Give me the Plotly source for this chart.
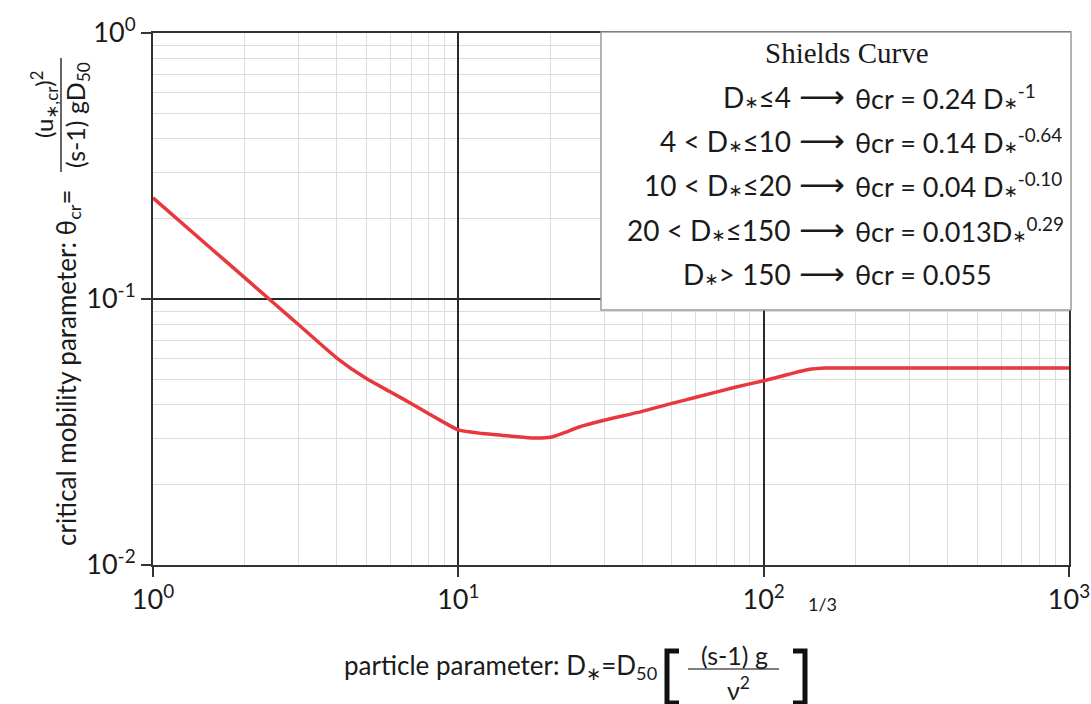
import plotly.graph_objects as go

# ---------------- data ----------------
D_star = [1, 1.5, 2, 2.5, 3, 4, 5, 6, 7, 8, 9, 10, 12, 14, 16, 18, 20, 22, 25, 30,
          40, 50, 60, 80, 100, 120, 140, 160, 200, 300, 500, 1000]
theta_cr = [0.240, 0.160, 0.120, 0.096, 0.080, 0.060, 0.0502, 0.0447, 0.0405, 0.0370,
            0.0343, 0.0322, 0.0312, 0.0307, 0.0303, 0.0300, 0.0302, 0.0313, 0.0331,
            0.0350, 0.0378, 0.0405, 0.0427, 0.0465, 0.0493, 0.0520, 0.0543, 0.0550,
            0.0550, 0.0550, 0.0550, 0.0550]

x_tickvals = [1, 10, 100, 1000]
x_ticktext = ["10<sup>0</sup>", "10<sup>1</sup>", "10<sup>2</sup>", "10<sup>3</sup>"]
y_tickvals = [0.01, 0.1, 1]
y_ticktext = ["10<sup>-2</sup>", "10<sup>-1</sup>", "10<sup>0</sup>"]

AST = "<span style='font-size:17px'>∗</span>"
legend_title = "Shields Curve"
legend_conditions = ["D" + AST + "≤4", "4 < D" + AST + "≤10", "10 < D" + AST + "≤20",
                     "20 < D" + AST + "≤150", "D" + AST + "> 150"]
legend_formulas = ["θcr = 0.24 D" + AST + "<sup>-1</sup>",
                   "θcr = 0.14 D" + AST + "<sup>-0.64</sup>",
                   "θcr = 0.04 D" + AST + "<sup>-0.10</sup>",
                   "θcr = 0.013D" + AST + "<sup>0.29</sup>",
                   "θcr = 0.055"]

# ---------------- layout helpers (pixel -> paper) ----------------
W, H = 1091, 704
L, R, T, B = 153, 1069, 33, 565


def px(x):
    return (x - L) / (R - L)


def py(y):
    return (B - y) / (B - T)


SANS = "Lato, 'Open Sans', 'DejaVu Sans', sans-serif"
SERIF = "'Liberation Serif', 'DejaVu Serif', serif"
TXT = "#1a1a1a"

fig = go.Figure()
fig.add_trace(go.Scatter(x=D_star, y=theta_cr, mode="lines",
                         line=dict(color="#e8383d", width=3.5, shape="spline", smoothing=0.6),
                         hoverinfo="skip", showlegend=False))

axis_common = dict(
    type="log", showline=True, linecolor="#333333", linewidth=2, mirror=True,
    ticks="outside", ticklen=10, tickwidth=2, tickcolor="#333333",
    showgrid=True, gridcolor="#2a2a2a", gridwidth=1.6,
    tickfont=dict(family=SANS, size=27, color=TXT),
    tickmode="array", zeroline=False, automargin=False,
    minor=dict(dtick="D1", showgrid=True, gridcolor="#dcdcdc", gridwidth=1, ticks=""),
)

fig.update_xaxes(range=[0, 3], tickvals=x_tickvals, ticktext=x_ticktext, **axis_common)
fig.update_yaxes(range=[-2, 0], tickvals=y_tickvals, ticktext=y_ticktext, **axis_common)

annotations = []
shapes = []

# legend box
shapes.append(dict(type="rect", xref="paper", yref="paper", layer="above",
                   x0=px(601), x1=px(1071), y0=py(310), y1=py(32),
                   fillcolor="white", line=dict(color="#9a9a9a", width=1.5)))
annotations.append(dict(xref="paper", yref="paper", x=px(847), y=py(53),
                        text=legend_title, showarrow=False, xanchor="center", yanchor="middle",
                        font=dict(family=SERIF, size=29, color=TXT)))
row_y = [97, 141, 185, 230, 274]
for cond, form, yy in zip(legend_conditions, legend_formulas, row_y):
    annotations.append(dict(xref="paper", yref="paper", x=px(793), y=py(yy), text=cond,
                            showarrow=False, xanchor="right", yanchor="middle",
                            font=dict(family=SANS, size=28, color=TXT)))
    annotations.append(dict(xref="paper", yref="paper", x=px(822), y=py(yy), text="⟶",
                            showarrow=False, xanchor="center", yanchor="middle",
                            font=dict(family="'DejaVu Sans', sans-serif", size=32, color=TXT)))
    annotations.append(dict(xref="paper", yref="paper", x=px(853), y=py(yy), text=form,
                            showarrow=False, xanchor="left", yanchor="middle",
                            font=dict(family=SANS, size=27, color=TXT)))

# y-axis title (rotated)
annotations.append(dict(xref="paper", yref="paper", x=px(67), y=py(368),
                        text="critical mobility parameter: θ<sub>cr</sub>=",
                        showarrow=False, textangle=-90, xanchor="center", yanchor="middle",
                        font=dict(family=SANS, size=26, color=TXT)))
annotations.append(dict(xref="paper", yref="paper", x=px(44), y=py(105),
                        text="(u<sub>∗,cr</sub>)<sup>2</sup>",
                        showarrow=False, textangle=-90, xanchor="center", yanchor="middle",
                        font=dict(family=SANS, size=24, color=TXT)))
annotations.append(dict(xref="paper", yref="paper", x=px(77), y=py(115),
                        text="(s-1) gD<sub>50</sub>",
                        showarrow=False, textangle=-90, xanchor="center", yanchor="middle",
                        font=dict(family=SANS, size=25, color=TXT)))
shapes.append(dict(type="line", xref="paper", yref="paper",
                   x0=px(61), x1=px(61), y0=py(58), y1=py(172),
                   line=dict(color="#333333", width=1.5)))

# x-axis title
annotations.append(dict(xref="paper", yref="paper", x=px(659), y=py(666),
                        text="particle parameter: D<sub>∗</sub>=D<sub>50</sub>",
                        showarrow=False, xanchor="right", yanchor="middle",
                        font=dict(family=SANS, size=26, color=TXT)))
# brackets
shapes.append(dict(type="path", xref="paper", yref="paper",
                   path="M {a},{t} L {b},{t} L {b},{u} L {a},{u}".format(
                       a=px(679), b=px(667), t=py(651), u=py(703)),
                   line=dict(color="#111111", width=5)))
shapes.append(dict(type="path", xref="paper", yref="paper",
                   path="M {a},{t} L {b},{t} L {b},{u} L {a},{u}".format(
                       a=px(793), b=px(805), t=py(651), u=py(703)),
                   line=dict(color="#111111", width=5)))
annotations.append(dict(xref="paper", yref="paper", x=px(734), y=py(655), text="(s-1) g",
                        showarrow=False, xanchor="center", yanchor="middle",
                        font=dict(family=SANS, size=25, color=TXT)))
annotations.append(dict(xref="paper", yref="paper", x=px(738), y=py(688), text="ν<sup>2</sup>",
                        showarrow=False, xanchor="center", yanchor="middle",
                        font=dict(family=SANS, size=25, color=TXT)))
shapes.append(dict(type="line", xref="paper", yref="paper",
                   x0=px(688), x1=px(779), y0=py(669), y1=py(669),
                   line=dict(color="#555555", width=1.5)))
annotations.append(dict(xref="paper", yref="paper", x=px(822), y=py(604), text="1/3",
                        showarrow=False, xanchor="center", yanchor="middle",
                        font=dict(family=SANS, size=18, color=TXT)))

fig.update_layout(
    width=W, height=H,
    margin=dict(l=L, r=W - R, t=T, b=H - B, pad=0, autoexpand=False),
    paper_bgcolor="white", plot_bgcolor="white",
    annotations=annotations, shapes=shapes, showlegend=False,
)

fig.write_html("out.html", config={"displayModeBar": False},
               post_script="document.body.style.margin='0';document.body.style.overflow='hidden';")
